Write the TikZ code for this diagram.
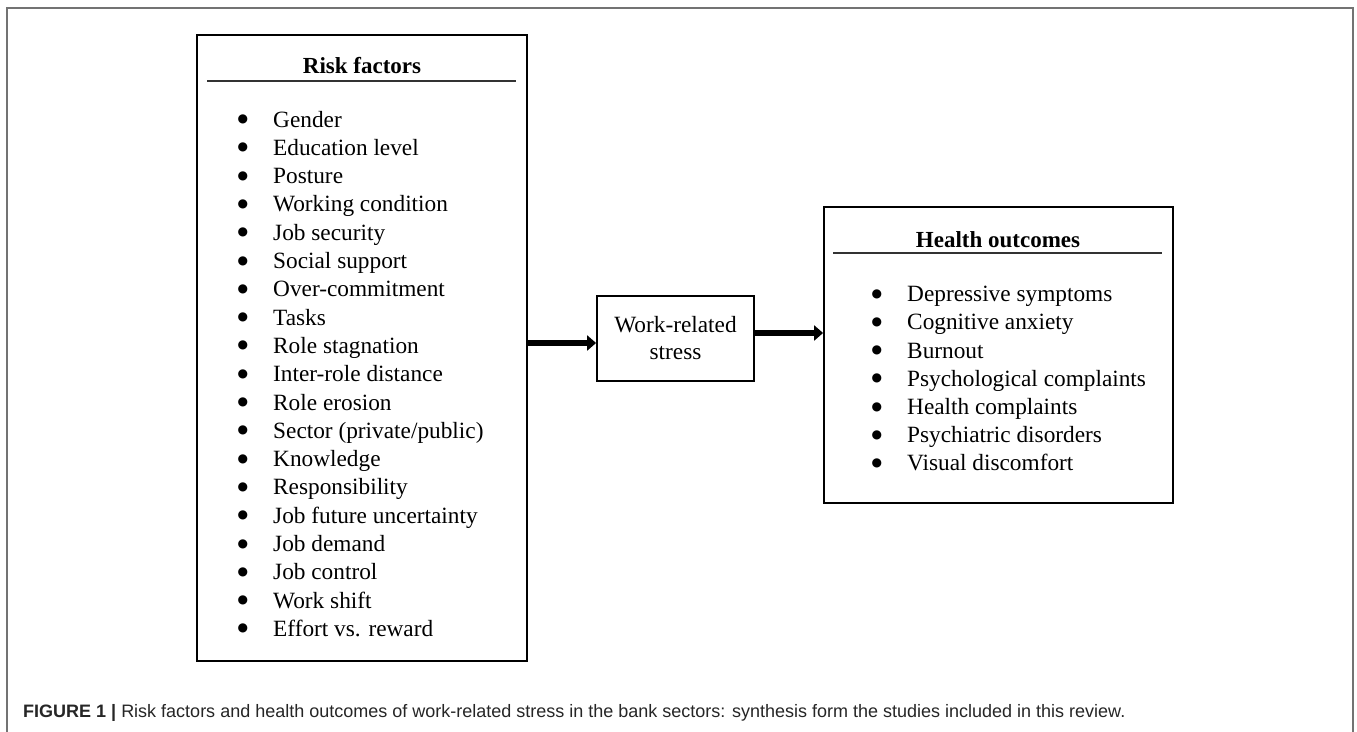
\documentclass[tikz,border=0pt]{standalone}
\usepackage{fontspec}
\setmainfont{Liberation Serif}
\newfontfamily\capfont{Liberation Sans}
\newfontfamily\dotfont{DejaVu Sans}
\usetikzlibrary{arrows.meta}
\newcommand\listdot{\llap{\raisebox{4.5pt}{\dotfont\fontsize{12}{12}\selectfont ●}\hskip 25pt}}
\begin{document}
\begin{tikzpicture}[x=1pt,y=-1pt,
        box/.style={draw=black, line width=1.8pt, inner sep=0pt},
        rule/.style={draw=black!80, line width=1.3pt},
        flow/.style={line width=6.5pt, -{Triangle[length=9pt,width=15pt]}},
        head/.style={anchor=base, font=\fontsize{23}{28}\selectfont\bfseries},
        item/.style={anchor=base west, inner sep=0pt, font=\fontsize{23.3}{28}\selectfont, execute at begin node=\listdot},
        frame/.style={draw=black!55, line width=2pt}]
        \path[use as bounding box, fill=white] (0,0) rectangle (1357,731);
        \draw[frame] (7,740) -- (7,8) -- (1353,8) -- (1353,740);

        \node[box, minimum width=330pt, minimum height=626pt] (risk) at (362,348) {};
        \node[box, minimum width=157pt, minimum height=85pt, align=center, font=\fontsize{23.3}{27}\selectfont] (stress) at (675.5,338.5) {Work-related\\stress};
        \node[box, minimum width=349pt, minimum height=296pt] (health) at (998.5,355) {};

        \node[head] (riskhead) at (362,73) {Risk factors};
        \draw[rule] (207,81) -- (516,81);
        \node[head] (healthhead) at (998,247) {Health outcomes};
        \draw[rule] (833,253) -- (1162,253);

        \node[item] (r1) at (273,127) {Gender};
        \node[item] (r2) at (273,155.3) {Education level};
        \node[item] (r3) at (273,183.6) {Posture};
        \node[item] (r4) at (273,211.9) {Working condition};
        \node[item] (r5) at (273,240.2) {Job security};
        \node[item] (r6) at (273,268.5) {Social support};
        \node[item] (r7) at (273,296.8) {Over-commitment};
        \node[item] (r8) at (273,325.1) {Tasks};
        \node[item] (r9) at (273,353.4) {Role stagnation};
        \node[item] (r10) at (273,381.7) {Inter-role distance};
        \node[item] (r11) at (273,410) {Role erosion};
        \node[item] (r12) at (273,438.3) {Sector (private/public)};
        \node[item] (r13) at (273,466.6) {Knowledge};
        \node[item] (r14) at (273,494.9) {Responsibility};
        \node[item] (r15) at (273,523.2) {Job future uncertainty};
        \node[item] (r16) at (273,551.5) {Job demand};
        \node[item] (r17) at (273,579.8) {Job control};
        \node[item] (r18) at (273,608.1) {Work shift};
        \node[item] (r19) at (273,636.4) {Effort vs. reward};

        \node[item] (h1) at (907,301.7) {Depressive symptoms};
        \node[item] (h2) at (907,329.9) {Cognitive anxiety};
        \node[item] (h3) at (907,358.1) {Burnout};
        \node[item] (h4) at (907,386.3) {Psychological complaints};
        \node[item] (h5) at (907,414.5) {Health complaints};
        \node[item] (h6) at (907,442.7) {Psychiatric disorders};
        \node[item] (h7) at (907,470.9) {Visual discomfort};

        \draw[flow] ([yshift=-4.5pt]stress.west -| risk.east) -- ([yshift=-4.5pt]stress.west);
        \draw[flow] ([yshift=5.5pt]stress.east) -- ([yshift=5.5pt]stress.east -| health.west);

        \node[anchor=base west, inner sep=0pt, font=\capfont\fontsize{18}{20}\selectfont, text=black!85] (caption) at (23,717) {{\bfseries FIGURE 1 |} Risk factors and health outcomes of work-related stress in the bank sectors: synthesis form the studies included in this review.};
    \end{tikzpicture}
\end{document}
